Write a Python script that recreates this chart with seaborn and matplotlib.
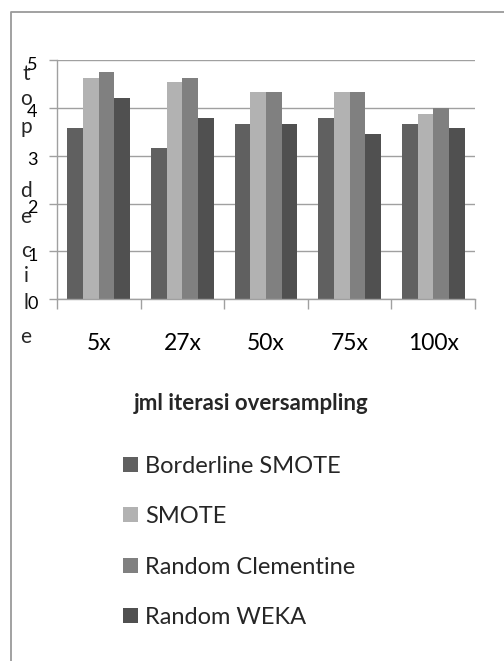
import matplotlib
matplotlib.use("Agg")
import matplotlib.pyplot as plt
from matplotlib.lines import Line2D
from matplotlib.transforms import ScaledTranslation
import numpy as np
import pandas as pd
import seaborn as sns

# Top-decile score per oversampling iteration count and method
iterations = ["5x", "27x", "50x", "75x", "100x"]
methods = ["Borderline SMOTE", "SMOTE", "Random Clementine", "Random WEKA"]
borderline_smote = [3.58, 3.16, 3.66, 3.78, 3.66]
smote = [4.62, 4.54, 4.33, 4.33, 3.87]
random_clementine = [4.75, 4.62, 4.33, 4.33, 3.99]
random_weka = [4.20, 3.78, 3.66, 3.45, 3.58]
y_ticks = [0, 1, 2, 3, 4, 5]
axis_letters = list("topdecile")
title = "jml iterasi oversampling"

colors = ["#606060", "#b2b2b2", "#808080", "#505050"]
grid_gray = "#a0a0a0"

sns.set_style("white")
plt.rcParams["font.family"] = ["Lato", "DejaVu Sans"]

df = pd.DataFrame({
    "iterasi": iterations * len(methods),
    "metode": np.repeat(methods, len(iterations)),
    "topdecile": borderline_smote + smote + random_clementine + random_weka,
})

W, H = 504, 661
fig = plt.figure(figsize=(W / 100, H / 100), dpi=100)
ax = fig.add_axes([57 / W, 1 - 299.3 / H, 418 / W, (299.3 - 60) / H])

sns.barplot(data=df, x="iterasi", y="topdecile", hue="metode",
            order=iterations, hue_order=methods, palette=colors,
            width=0.75, saturation=1, linewidth=0, errorbar=None,
            ax=ax, legend=True)

ax.set_xlim(-0.5, len(iterations) - 0.5)
ax.set_ylim(0, 5)
ax.set_yticks(y_ticks)
ax.set_xlabel("")
ax.set_ylabel("")
ax.set_axisbelow(True)
ax.yaxis.grid(True, color=grid_gray, lw=1)
ax.xaxis.grid(False)

for side in ("top", "right"):
    ax.spines[side].set_visible(False)
for side in ("left", "bottom"):
    ax.spines[side].set_color(grid_gray)
    ax.spines[side].set_linewidth(1)

ax.tick_params(axis="y", length=6, width=1, color=grid_gray, pad=8,
               labelsize=13, labelcolor="black", left=True)
# value labels sit slightly below their gridlines
shift = ScaledTranslation(0, -3 / 100, fig.dpi_scale_trans)
for lbl in ax.get_yticklabels():
    lbl.set_transform(lbl.get_transform() + shift)

ax.tick_params(axis="x", which="major", length=0, pad=24.5,
               labelsize=16.5, labelcolor="black")
ax.set_xticks(np.arange(-0.5, len(iterations)), minor=True)
ax.tick_params(axis="x", which="minor", length=7, width=1, color=grid_gray,
               bottom=True)

handles, labels = ax.get_legend_handles_labels()
ax.get_legend().remove()
fig.legend(handles, labels, loc="upper left",
           bbox_to_anchor=(123 / W, 1 - 456 / H), frameon=False,
           fontsize=17, handlelength=0.65, handleheight=0.6,
           handletextpad=0.3, labelspacing=1.24, borderpad=0,
           borderaxespad=0)

fig.text(251 / W, 1 - 410 / H, title, ha="center", va="baseline",
         fontsize=16, fontweight="bold")

# vertical axis caption, one letter per line
letter_baselines = [80, 105, 133, 197, 223, 257, 282, 309, 343]
for ch, b in zip(axis_letters, letter_baselines):
    fig.text(26 / W, 1 - b / H, ch, ha="center", va="baseline", fontsize=15)

# outer chart frame
fig.add_artist(Line2D([11 / W, 11 / W, 1], [0, 1 - 12 / H, 1 - 12 / H],
                      color="#9a9a9a", lw=1.3, transform=fig.transFigure))

fig.savefig("out.png", dpi=100)
